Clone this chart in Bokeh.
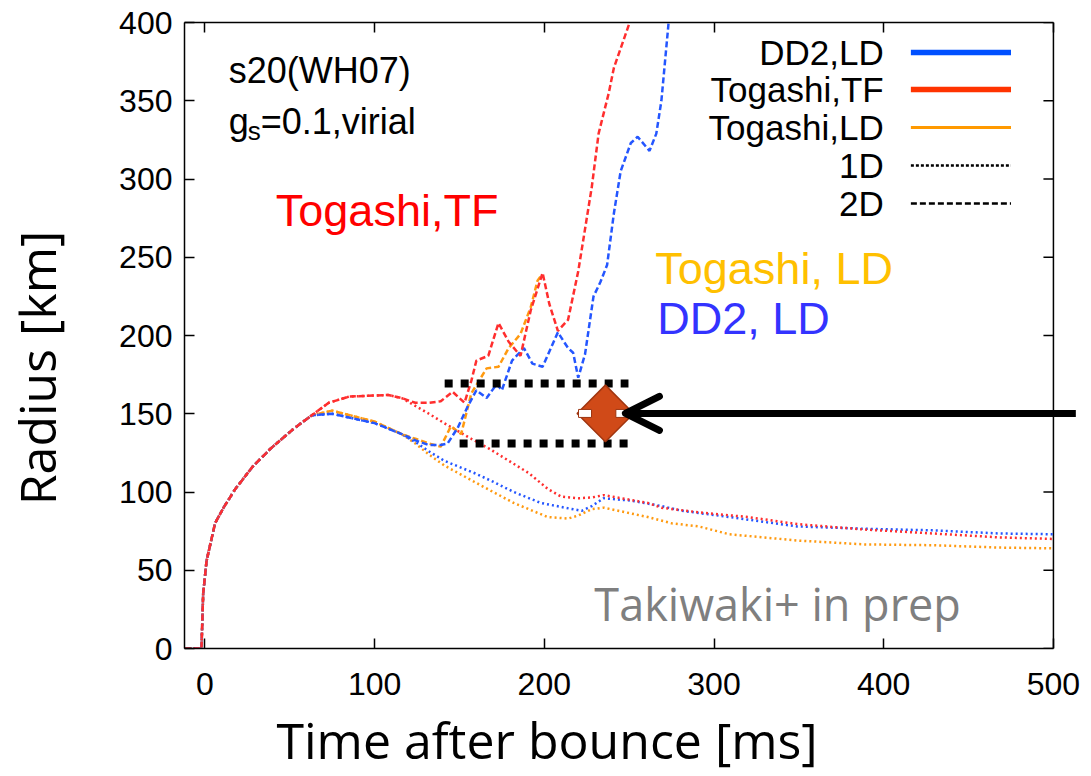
import math
from bokeh.plotting import figure
from bokeh.models import FixedTicker, LinearAxis, Range1d, Arrow, OpenHead
from bokeh.core.properties import value
from bokeh.embed import file_html
from bokeh.resources import INLINE

# ---- shock radius histories: time after bounce [ms] vs radius [km] ----
# collapse phase shared by all models
t_early = [-12, -2, -1, 1, 6, 11, 18, 28, 39, 53, 63]
r_early = [0, 0, 35, 56, 80, 90, 102, 116, 128, 141, 149]

# Togashi, TF
t_tf_1d = t_early + [73, 85, 108, 116, 124, 132, 141, 157, 167, 179, 191, 202, 210, 220, 228, 235,
                     261, 269, 291, 320, 349, 389, 429, 468, 500]
r_tf_1d = r_early + [157, 161, 162, 160, 155, 150, 144, 134, 128, 120, 112, 102, 97, 96, 96.5, 98,
                     93, 90, 87, 84, 79.5, 76, 73.5, 71, 70]
t_tf_2d = t_early + [73, 85, 108, 116, 124, 132, 139, 146, 153, 157, 160, 167, 173, 179, 186, 192,
                     199, 203, 208, 214, 220, 228, 232, 238, 241, 250, 252]
r_tf_2d = r_early + [157, 161, 162, 160, 157, 157, 158, 164, 157, 171, 184, 187, 208, 196, 187, 216,
                     240, 220, 203, 210, 241, 295, 329, 355, 371, 399, 410]

# DD2, LD
t_dd2_1d = t_early + [75, 100, 116, 124, 132, 141, 159, 169, 182, 198, 212, 222, 228, 235, 251, 269,
                      281, 309, 349, 389, 429, 468, 500]
r_dd2_1d = r_early + [150, 144, 137, 132, 126, 120, 112, 107, 100, 93, 90, 88, 91, 96, 94.5, 91,
                      88, 84, 78, 76.5, 75.5, 73.5, 73]
t_dd2_2d = t_early + [75, 100, 116, 124, 132, 139, 143, 149, 155, 160, 166, 172, 175, 181, 188, 193,
                      199, 208, 214, 217, 220, 224, 229, 233, 237, 241, 245, 251, 255, 262, 266,
                      269, 273, 274]
r_dd2_2d = r_early + [150, 144, 137, 133, 130, 130, 131, 141, 155, 165, 160, 169, 165, 184, 192, 182,
                      180, 202, 192, 189, 173, 188, 225, 234, 245, 278, 305, 323, 327, 318, 329,
                      350, 397, 410]

# Togashi, LD
t_ld_1d = t_early + [75, 100, 116, 124, 132, 141, 163, 182, 202, 214, 220, 228, 235, 261, 275, 291,
                     309, 349, 389, 429, 468, 500]
r_ld_1d = r_early + [152, 145, 137, 131, 124, 117, 104, 93, 84, 83, 85, 89, 90, 84, 80, 78,
                     73, 69, 66.5, 66, 64.5, 64]
t_ld_2d = t_early + [75, 100, 116, 124, 132, 139, 145, 151, 157, 166, 173, 179, 186, 192, 196, 198]
r_ld_2d = r_early + [152, 145, 137, 134, 131, 129, 142, 137, 163, 179, 180, 192, 201, 218, 235, 238]

# axis ticks
x_ticks = [0, 100, 200, 300, 400, 500]
y_ticks = [0, 50, 100, 150, 200, 250, 300, 350, 400]

# legend entries
legend_labels = ["DD2,LD", "Togashi,TF", "Togashi,LD", "1D", "2D"]

# marked 2D shock-radius band and the highlighted point
band_t0 = [141.3, 150.1]
band_t1 = [249.6, 249.6]
band_r = [169.3, 131.0]
mark_t = [236.0]
mark_r = [150.2]

RED = "#ff2e2e"
BLUE = "#2456ff"
ORANGE = "#ff9a10"

T_MIN, T_MAX = -12, 500
PX_PER_MS = 1.699          # horizontal scale of the plotting area
# the plotting area runs on past t = 500 so the pointer arrow can reach the page edge
T_VIEW_END = T_MIN + (1091 - 183) / PX_PER_MS

p = figure(width=1091, height=776, x_range=Range1d(T_MIN, T_VIEW_END), y_range=Range1d(0, 400),
           output_backend="svg", toolbar_location=None,
           min_border_left=183, min_border_right=0, min_border_top=22, min_border_bottom=128)
p.background_fill_color = "white"
p.border_fill_color = "white"
p.outline_line_color = None
p.grid.visible = False

xt = FixedTicker(ticks=x_ticks)
yt = FixedTicker(ticks=y_ticks)


def style_axis(ax, ticker, show_labels, standoff=12):
    ax.ticker = ticker
    ax.axis_line_color = "black"
    ax.axis_line_width = 1.5
    ax.major_tick_in = 10
    ax.major_tick_out = 0
    ax.major_tick_line_width = 1.5
    ax.major_tick_line_color = "black"
    ax.minor_tick_line_color = None
    ax.major_label_standoff = standoff
    if show_labels:
        ax.major_label_text_font = "Liberation Sans"
        ax.major_label_text_font_size = "32px"
        ax.major_label_text_color = "black"
    else:
        ax.major_label_text_color = None
        ax.major_label_text_font_size = "1px"
        ax.major_label_standoff = 0


NBSP = "\u00a0"
xa = p.xaxis[0]
style_axis(xa, xt, True, standoff=24)
xa.bounds = (T_MIN, T_MAX)
xa.axis_label = "Time after bounce [ms]" + NBSP * 14
xa.axis_label_text_font = "Open Sans"
xa.axis_label_text_font_size = "50px"
xa.axis_label_text_font_style = "normal"
xa.axis_label_text_color = "black"
xa.axis_label_standoff = 8

ya = p.yaxis[0]
style_axis(ya, yt, True, standoff=12)
ya.axis_label = "Radius [km]" + NBSP * 5
ya.axis_label_text_font = "Open Sans"
ya.axis_label_text_font_size = "50px"
ya.axis_label_text_font_style = "normal"
ya.axis_label_text_color = "black"
ya.axis_label_standoff = 45

top_ax = LinearAxis(bounds=(T_MIN, T_MAX))
style_axis(top_ax, xt, False)
p.add_layout(top_ax, "above")

# right-hand border with inward ticks at t = 500
tick_len = 10 / PX_PER_MS
p.segment(x0=[T_MAX], y0=[0], x1=[T_MAX], y1=[400], line_color="black", line_width=1.5)
p.segment(x0=[T_MAX] * len(y_ticks), y0=y_ticks, x1=[T_MAX - tick_len] * len(y_ticks), y1=y_ticks,
          line_color="black", line_width=1.5)

# ---- curves: 1D dotted, 2D dashed ----
DOT = "2 3"
DASH = "6 3"
LW = 2.5
p.line(t_ld_1d, r_ld_1d, line_color=ORANGE, line_width=LW, line_dash=DOT)
p.line(t_dd2_1d, r_dd2_1d, line_color=BLUE, line_width=LW, line_dash=DOT)
p.line(t_tf_1d, r_tf_1d, line_color=RED, line_width=LW, line_dash=DOT)
p.line(t_ld_2d, r_ld_2d, line_color=ORANGE, line_width=LW, line_dash=DASH)
p.line(t_dd2_2d, r_dd2_2d, line_color=BLUE, line_width=LW, line_dash=DASH)
p.line(t_tf_2d, r_tf_2d, line_color=RED, line_width=LW, line_dash=DASH)

# ---- legend (labels right-aligned, sample lines to their right) ----
leg_r = [380.8, 357.2, 332.9, 308.6, 284.3]
p.text(x=[400] * 5, y=leg_r, text=legend_labels, text_align="right", text_baseline="middle",
       text_font=value("Liberation Sans"), text_font_size="35px", text_color="black")
leg_styles = [
    dict(line_color="#0050ff", line_width=5.5, line_dash="solid"),
    dict(line_color="#ff3300", line_width=5.5, line_dash="solid"),
    dict(line_color="#ff9900", line_width=3, line_dash="solid"),
    dict(line_color="black", line_width=2.5, line_dash="3 2"),
    dict(line_color="black", line_width=2.5, line_dash="6 3"),
]
for ry, st in zip(leg_r, leg_styles):
    p.segment(x0=[416], y0=[ry], x1=[475], y1=[ry], **st)

# ---- model info ----
p.text(x=[14.1], y=[369.3], text=["s20(WH07)"], text_font=value("Liberation Sans"),
       text_font_size="36px", text_baseline="alphabetic", text_color="black")
p.text(x=[14.1], y=[336.7], text=["g"], text_font=value("Liberation Sans"),
       text_font_size="36px", text_baseline="alphabetic", text_color="black")
p.text(x=[14.1], y=[336.7], text=["s"], x_offset=19, y_offset=9, text_font=value("Liberation Sans"),
       text_font_size="26px", text_baseline="alphabetic", text_color="black")
p.text(x=[14.1], y=[336.7], text=["=0.1,virial"], x_offset=32, text_font=value("Liberation Sans"),
       text_font_size="36px", text_baseline="alphabetic", text_color="black")

# ---- curve annotations ----
p.text(x=[41.8], y=[279.9], text=["Togashi,TF"], text_color="#ff0000", text_baseline="middle",
       text_font=value("Liberation Sans"), text_font_size="45px")
p.text(x=[265.4], y=[242.8], text=["Togashi, LD"], text_color="#ffc000", text_baseline="middle",
       text_font=value("Liberation Sans"), text_font_size="45px")
p.text(x=[266.6], y=[210.9], text=["DD2, LD"], text_color="#3333ff", text_baseline="middle",
       text_font=value("Liberation Sans"), text_font_size="45px")
p.text(x=[229.5], y=[28.8], text=["Takiwaki+ in prep"], text_color="#7f7f7f", text_baseline="middle",
       text_font=value("Open Sans"), text_font_size="45px")

# ---- 2D band and highlighted point ----
p.segment(x0=band_t0, y0=band_r, x1=band_t1, y1=band_r, line_color="black", line_width=8,
          line_dash="8 8", line_cap="butt")
p.scatter(mark_t, mark_r, marker="square", angle=math.pi / 4, size=40,
          fill_color="#d04a18", line_color="#a0350f", line_width=1.5)
p.rect(x=[224.0, 246.0], y=mark_r * 2, width=13, height=8, width_units="screen",
       height_units="screen", fill_color="white", line_color="#9c3410", line_width=1)

p.add_layout(Arrow(end=OpenHead(size=34, line_width=7, line_color="black",
                                line_cap="round", line_join="round"),
                   x_start=513.2, y_start=mark_r[0], x_end=247.8, y_end=mark_r[0],
                   line_width=7, line_color="black"))

open("out.html", "w").write(file_html(p, INLINE))
